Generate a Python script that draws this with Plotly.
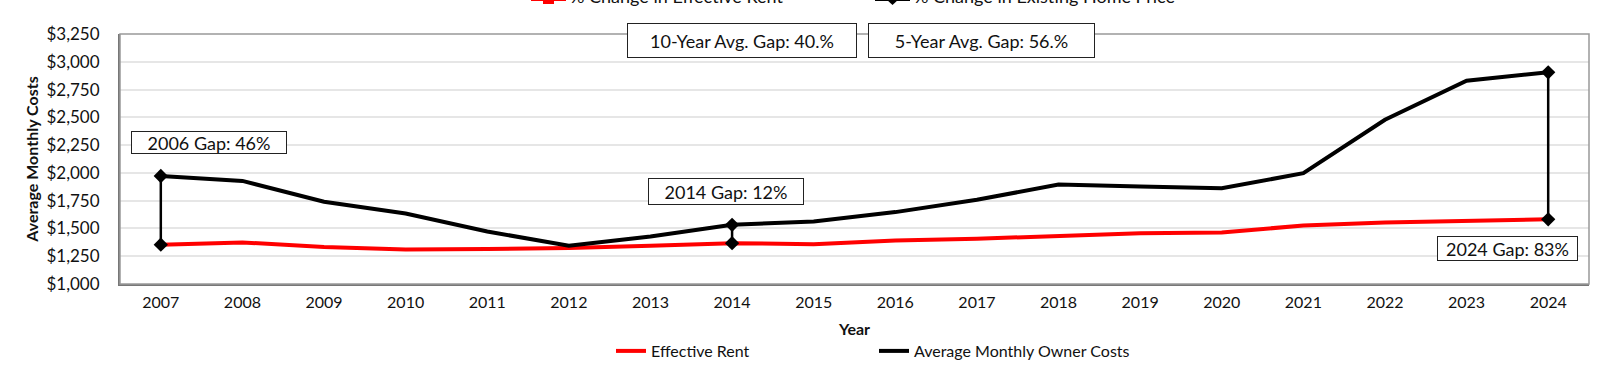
import plotly.graph_objects as go

years = list(range(2007, 2025))
owner_costs = [1972, 1928, 1740, 1635, 1472, 1345, 1428, 1533, 1563, 1647,
               1758, 1895, 1878, 1862, 1997, 2478, 2830, 2905]
effective_rent = [1354, 1374, 1332, 1310, 1316, 1324, 1345, 1367, 1358, 1392,
                  1408, 1428, 1456, 1464, 1526, 1553, 1569, 1582]
gap_years = [2007, 2014, 2024]
gap_labels = ["2006 Gap: 46%", "2014 Gap: 12%", "2024 Gap: 83%"]
avg_labels = ["10-Year Avg. Gap: 40.%", "5-Year Avg. Gap: 56.%"]
y_ticks = list(range(1000, 3251, 250))

FONT = "Lato, sans-serif"

fig = go.Figure()
fig.add_trace(go.Scatter(x=years, y=effective_rent, mode="lines", name="Effective Rent",
                         line=dict(color="#ff0000", width=4)))
fig.add_trace(go.Scatter(x=years, y=owner_costs, mode="lines", name="Average Monthly Owner Costs",
                         line=dict(color="#000000", width=4)))

for gy in gap_years:
    i = years.index(gy)
    fig.add_trace(go.Scatter(x=[gy, gy], y=[effective_rent[i], owner_costs[i]],
                             mode="lines+markers", showlegend=False,
                             line=dict(color="black", width=2.5),
                             marker=dict(symbol="diamond", size=11, color="black")))

W0, W1, T0, T1 = 120, 1589, 34, 284
def px(x): return (x - W0) / (W1 - W0)
def py(y): return (T1 - y) / (T1 - T0)

boxes = [
    (gap_labels[0], 209, 142, 154, 21),
    (gap_labels[1], 725.7, 191.8, 154, 25),
    (gap_labels[2], 1507.7, 248.7, 139, 23),
    (avg_labels[0], 742, 40.5, 228, 33),
    (avg_labels[1], 981.5, 40.5, 225, 33),
]
annotations = []
for text, cx, cy, w, h in boxes:
    annotations.append(dict(text=text, xref="paper", yref="paper", x=px(cx), y=py(cy),
                            xanchor="center", yanchor="middle", showarrow=False,
                            width=w, height=h, borderpad=0, bordercolor="#222",
                            borderwidth=1, bgcolor="white",
                            font=dict(family=FONT, size=18, color="#111")))

# clipped top legend (cut off at the top edge, as in the reference)
annotations.append(dict(text="% Change in Effective Rent", xref="paper", yref="paper",
                        x=px(568), y=py(-4), xanchor="left", yanchor="middle", showarrow=False,
                        font=dict(family=FONT, size=18, color="#111")))
annotations.append(dict(text="% Change in Existing Home Price", xref="paper", yref="paper",
                        x=px(912), y=py(-4), xanchor="left", yanchor="middle", showarrow=False,
                        font=dict(family=FONT, size=18, color="#111")))
shapes = [
    dict(type="line", xref="paper", yref="paper", x0=px(531), x1=px(566), y0=py(-1), y1=py(-1),
         line=dict(color="#ff0000", width=4)),
    dict(type="rect", xref="paper", yref="paper", x0=px(543), x1=px(554), y0=py(-6), y1=py(4),
         line=dict(width=0), fillcolor="#ff0000"),
    dict(type="line", xref="paper", yref="paper", x0=px(875), x1=px(910), y0=py(-1), y1=py(-1),
         line=dict(color="#000", width=4)),
    dict(type="path", xref="paper", yref="paper",
         path=f"M {px(886)},{py(-1)} L {px(892.5)},{py(-7)} L {px(899)},{py(-1)} L {px(892.5)},{py(5)} Z",
         line=dict(width=0), fillcolor="#000"),
]

fig.update_layout(
    width=1600, height=371,
    margin=dict(l=W0, r=1600 - W1, t=T0, b=371 - T1, autoexpand=False),
    paper_bgcolor="white", plot_bgcolor="white",
    font=dict(family=FONT, size=16, color="#111"),
    showlegend=True,
    hovermode=False,
    legend=dict(orientation="h", x=px(611), xanchor="left", y=py(351), yanchor="middle",
                entrywidth=218, entrywidthmode="pixels", itemwidth=30,
                font=dict(family=FONT, size=16, color="#111"), tracegroupgap=0),
    annotations=annotations,
    shapes=shapes,
    xaxis=dict(range=[2006.5, 2024.5], tickmode="array", tickvals=years,
               ticktext=[str(y) for y in years], showgrid=False,
               showline=True, linecolor="#777", linewidth=2, mirror=False, automargin=False,
               ticks="", ticklabelstandoff=3, tickfont=dict(size=16),
               title=dict(text="<b>Year</b>", font=dict(size=16), standoff=14)),
    yaxis=dict(range=[1000, 3250], tickmode="array", tickvals=y_ticks,
               ticktext=[f"${v:,}" for v in y_ticks], automargin=False,
               showgrid=True, gridcolor="#e6e6e6", gridwidth=1.5,
               showline=True, linecolor="#777", linewidth=2,
               ticks="", ticklabelstandoff=15, tickfont=dict(size=17),
               title=dict(text="<b>Average Monthly Costs</b>", font=dict(size=16), standoff=4),
               zeroline=False),
)
# plot frame
fig.add_shape(type="rect", xref="paper", yref="paper", x0=0, x1=1, y0=0, y1=1,
              line=dict(color="#999", width=1.5), layer="above")

fig.write_html("out.html", config={"displayModeBar": False},
               post_script="document.body.style.margin='0';")
